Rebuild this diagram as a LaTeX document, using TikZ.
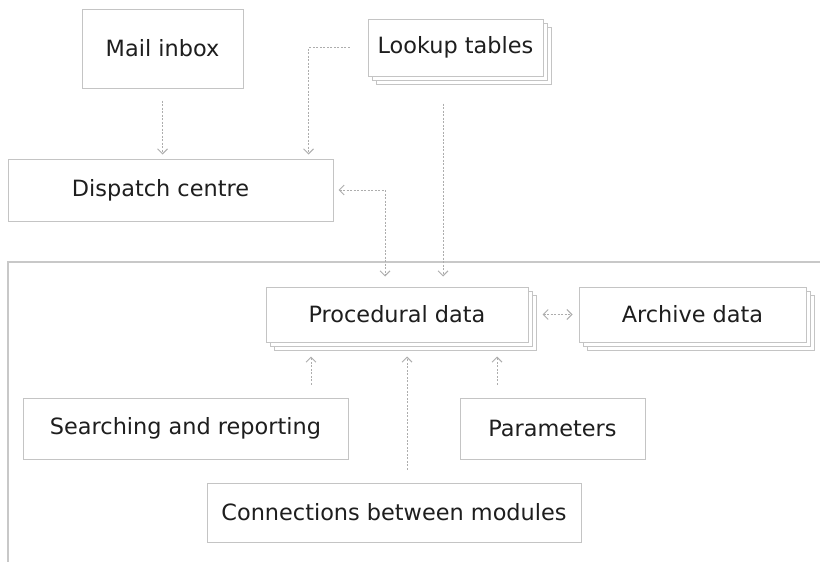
\documentclass[tikz,border=0pt]{standalone}
\usepackage{fontspec}
\setmainfont{DejaVu Sans}
\usetikzlibrary{arrows.meta,shadows,calc}
\definecolor{boxgray}{HTML}{C4C4C4}
\definecolor{linegray}{HTML}{ADADAD}
\definecolor{framegray}{HTML}{C8C8C8}
\definecolor{txtcol}{HTML}{1E1E1E}
\begin{document}
\begin{tikzpicture}[x=1pt,y=-1pt,
  box/.style={draw=boxgray, line width=1pt, fill=white, inner sep=0pt,
    text=txtcol, font=\fontsize{22.4}{27}\selectfont},
  stack/.style={box, double copy shadow={shadow xshift=4pt, shadow yshift=-4pt,
    draw=boxgray, fill=white, line width=1pt}},
  txt/.style={text=txtcol, font=\fontsize{22.4}{27}\selectfont, inner sep=0pt},
  conn/.style={draw=linegray, line width=1pt, dash pattern=on 2pt off 1.5pt},
  tip/.style={-{Straight Barb[length=5pt,width=10pt,line width=1pt]}},
  dtip/.style={{Straight Barb[length=5pt,width=10pt,line width=1pt]}-{Straight Barb[length=5pt,width=10pt,line width=1pt]}}
]
\useasboundingbox (0,0) rectangle (820,562);
% frame
\draw[framegray, line width=1.5pt] (8,562) -- (8,262) -- (820,262);
% nodes
\node[box, minimum width=161pt, minimum height=79pt] (mail) at (162.5,48.5) {Mail inbox};
\node[stack, minimum width=175pt, minimum height=57pt] (look) at (455.5,47.5) {Lookup tables};
\node[box, minimum width=325pt, minimum height=62pt] (disp) at (170.5,190) {};
\node[txt] (dispt) at (160.5,190) {Dispatch centre};
\node[stack, minimum width=262pt, minimum height=55pt] (proc) at (397,314.5) {Procedural data};
\node[stack, minimum width=227pt, minimum height=55pt] (arch) at (692.5,314.5) {Archive data};
\node[box, minimum width=325pt, minimum height=61pt] (search) at (185.5,428.5) {Searching and reporting};
\node[box, minimum width=185pt, minimum height=61pt] (param) at (552.5,428.5) {Parameters};
\node[box, minimum width=374pt, minimum height=59pt] (cm) at (394,512.5) {Connections between modules};
% helper coordinates
\coordinate (p1) at ([xshift=-12pt]proc.north);
\coordinate (p2) at ([xshift=46pt]proc.north);
\coordinate (q1) at ([xshift=-86pt]proc.south);
\coordinate (q2) at ([xshift=10pt]proc.south);
\coordinate (q3) at ([xshift=100pt]proc.south);
\coordinate (d1) at ([xshift=-25pt]disp.north east);
% connectors
\draw[conn,tip,shorten <=12pt,shorten >=4pt] (mail.south) -- (mail.south |- disp.north);
\draw[conn,tip,shorten <=18pt,shorten >=4pt] (look.west) -| (d1);
\draw[conn,dtip,shorten <=5pt,shorten >=10pt] (disp.east) -| (p1);
\draw[conn,tip,shorten <=27pt,shorten >=10pt] (p2 |- look.south) -- (p2);
\draw[conn,dtip,shorten <=14pt,shorten >=6pt] (proc.east) -- (arch.west);
\draw[conn,tip,shorten <=13pt,shorten >=14pt] (q1 |- search.north) -- (q1);
\draw[conn,tip,shorten <=13pt,shorten >=14pt] (q2 |- cm.north) -- (q2);
\draw[conn,tip,shorten <=13pt,shorten >=14pt] (q3 |- param.north) -- (q3);
\end{tikzpicture}
\end{document}
